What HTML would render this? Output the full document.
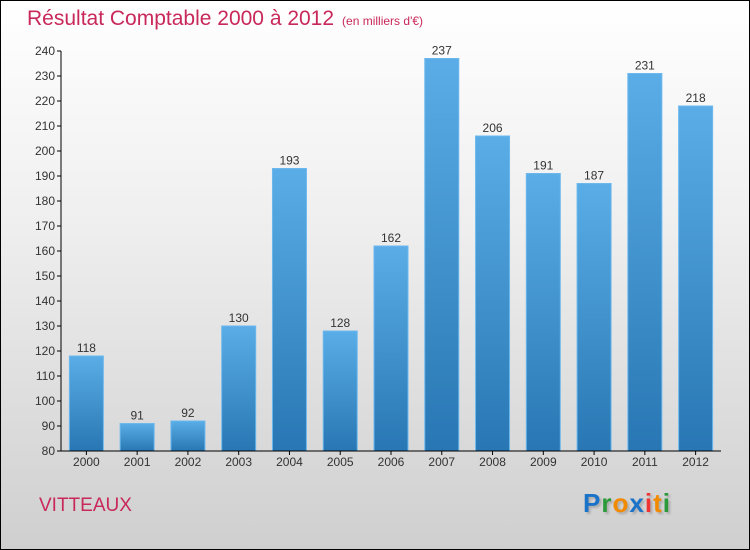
<!DOCTYPE html>
<html><head><meta charset="utf-8">
<style>
html,body{margin:0;padding:0}
body{width:750px;height:550px;overflow:hidden}
#wrap{position:relative;width:748px;height:548px;border:1px solid #000;background:linear-gradient(#ffffff 0%,#efefef 40%,#cfcfcf 100%);font-family:"Liberation Sans",sans-serif}
.title{position:absolute;left:26px;top:6px;font-size:21px;color:#c8285a}
.title small{font-size:12px;margin-left:8px}
.city{position:absolute;left:38px;top:494px;font-size:19px;color:#c8285a}
.logo{position:absolute;left:582px;top:487px;font-size:26px;font-weight:bold;letter-spacing:1px;text-shadow:2px 2px 2px #aaa}
</style></head><body>
<div id="wrap">
<div class="title">Résultat Comptable 2000 à 2012<small>(en milliers d'€)</small></div>
<svg id="chart" width="750" height="550" style="position:absolute;left:-1px;top:-1px">
<defs><linearGradient id="bg" x1="0" y1="0" x2="0" y2="1"><stop offset="0" stop-color="#5aade6"/><stop offset="1" stop-color="#2877b4"/></linearGradient></defs>
</svg>
<div class="city">VITTEAUX</div>
<div class="logo"><span style="color:#1a73c8">P</span><span style="color:#2a9a3a">r</span><span style="color:#f28a00">o</span><span style="color:#1a73c8">x</span><span style="color:#e33">i</span><span style="color:#f28a00">t</span><span style="color:#2a9a3a">i</span></div>
</div>
<script>
const categories=["2000","2001","2002","2003","2004","2005","2006","2007","2008","2009","2010","2011","2012"];
const values=[118,91,92,130,193,128,162,237,206,191,187,231,218];
const yTicks=[80,90,100,110,120,130,140,150,160,170,180,190,200,210,220,230,240];
const svg=document.getElementById('chart');
const NS='http://www.w3.org/2000/svg';
const x0=61,x1=721,y0=451,y1=51,ymin=80,ymax=240;
const step=(x1-x0)/categories.length;
const y=v=>y0-(v-ymin)/(ymax-ymin)*(y0-y1);
const xc=i=>x0+step*(i+0.5);
function mk(t,a){const e=document.createElementNS(NS,t);for(const k in a)e.setAttribute(k,a[k]);svg.appendChild(e);return e;}
yTicks.forEach(t=>{
 const l=mk('line',{x1:x0-4,x2:x0,y1:y(t),y2:y(t),stroke:'#000'});
 
 
 const tx=mk('text',{x:x0-6,y:y(t)+4,'text-anchor':'end','font-size':'12',fill:'#333','font-family':'Liberation Sans, sans-serif'});
 tx.textContent=t;
 
 
});
categories.forEach((c,i)=>{
 const w=34,cx=xc(i);
 const r=mk('rect',{x:cx-w/2,y:y(values[i]),width:w,height:y0-y(values[i]),fill:'url(#bg)',stroke:'#6cb8ee','stroke-width':1});
 
 
 const v=mk('text',{x:cx,y:y(values[i])-4,'text-anchor':'middle','font-size':'12',fill:'#333','font-family':'Liberation Sans, sans-serif'});
 v.textContent=values[i];
 
 
 const tk=mk('line',{x1:cx,x2:cx,y1:y0,y2:y0+4,stroke:'#000'});
 
 
 const t=mk('text',{x:cx,y:y0+15,'text-anchor':'middle','font-size':'12',fill:'#333','font-family':'Liberation Sans, sans-serif'});
 t.textContent=c;
 
 
});
const ya=mk('line',{x1:x0,x2:x0,y1:y1,y2:y0,stroke:'#000'});


const xa=mk('line',{x1:x0,x2:x1,y1:y0,y2:y0,stroke:'#000'});


</script>
</body></html>
